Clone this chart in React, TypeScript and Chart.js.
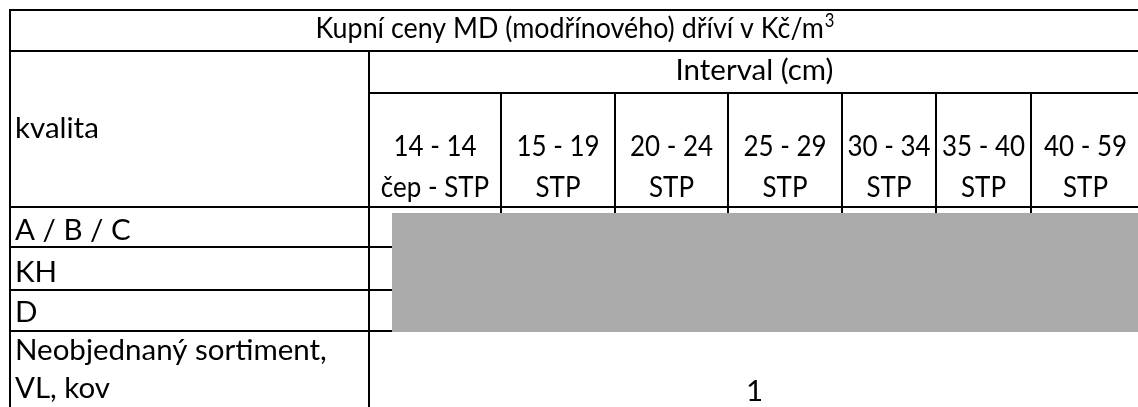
import React, { useEffect, useRef } from "react";
import { Chart, registerables } from "chart.js";

Chart.register(...registerables);

// ---- content (text / values) ----
const titleText = "Kupní ceny MD (modřínového) dříví v Kč/m";
const titleSup = "3";
const intervalHeader = "Interval (cm)";
const qualityHeader = "kvalita";
const intervals = ["14 - 14", "15 - 19", "20 - 24", "25 - 29", "30 - 34", "35 - 40", "40 - 59"];
const assortments = ["čep - STP", "STP", "STP", "STP", "STP", "STP", "STP"];
const qualities = ["A / B / C", "KH", "D"];
const otherLabel = ["Neobjednaný sortiment,", "VL, kov"];
const otherValues = [1];

// ---- layout (pixels in a 1138 x 407 frame) ----
const W = 1138;
const H = 407;
const colEdges = [10, 369, 501, 615, 728, 842, 936, 1031, 1140];
const rowEdges = [10, 51, 93, 207, 247, 290, 331, 420];
const maskBox = { x1: 392, y1: 213, x2: 1140, y2: 332 };
const textLeft = 15;
const fontFamily = "Lato, 'Noto Sans', sans-serif";
const fontSize = 29.5;
const titleScale = 0.91;
const colLabelScale = 0.88;
const bodyScale = 1.0;

const tablePlugin = {
  id: "tablePlugin",
  beforeDraw(chart: any) {
    const { ctx } = chart;
    ctx.save();
    ctx.fillStyle = "#ffffff";
    ctx.fillRect(0, 0, chart.width, chart.height);
    ctx.restore();
  },
  afterDraw(chart: any) {
    const { ctx } = chart;
    const xs = chart.scales.x;
    const ys = chart.scales.y;
    const X = (v: number) => xs.getPixelForValue(v);
    const Y = (v: number) => ys.getPixelForValue(v);
    const fs = fontSize;
    const font = `${fs}px ${fontFamily}`;

    ctx.save();
    // lines
    ctx.strokeStyle = "#000";
    ctx.lineWidth = 2;
    const hl = (y: number, x1: number, x2: number) => {
      ctx.beginPath();
      ctx.moveTo(X(x1), Y(y));
      ctx.lineTo(X(x2), Y(y));
      ctx.stroke();
    };
    const vl = (x: number, y1: number, y2: number) => {
      ctx.beginPath();
      ctx.moveTo(X(x), Y(y1));
      ctx.lineTo(X(x), Y(y2));
      ctx.stroke();
    };
    const L = colEdges[0];
    const R = colEdges[colEdges.length - 1];
    hl(rowEdges[0], L - 1, R);
    hl(rowEdges[1], L, R);
    hl(rowEdges[2], colEdges[1], R);
    for (let i = 3; i <= 6; i++) hl(rowEdges[i], L, R);
    vl(L, rowEdges[0] - 1, rowEdges[7]);
    vl(colEdges[1], rowEdges[1], rowEdges[7]);
    for (let c = 2; c < colEdges.length - 1; c++) vl(colEdges[c], rowEdges[2], rowEdges[6]);

    // masked (obscured) value area
    ctx.fillStyle = "rgb(170,170,170)";
    ctx.fillRect(X(maskBox.x1), Y(maskBox.y1), X(maskBox.x2) - X(maskBox.x1), Y(maskBox.y2) - Y(maskBox.y1));

    // texts
    ctx.fillStyle = "#000";
    ctx.textBaseline = "alphabetic";
    const draw = (t: string, x: number, y: number, align: CanvasTextAlign, sx: number, f: string = font) => {
      ctx.save();
      ctx.font = f;
      ctx.textAlign = align;
      ctx.translate(x, y);
      ctx.scale(sx, 1);
      ctx.fillText(t, 0, 0);
      ctx.restore();
    };

    // title with superscript
    const supFont = `${fs * 0.62}px ${fontFamily}`;
    ctx.font = font;
    const mainW = ctx.measureText(titleText).width * titleScale;
    ctx.font = supFont;
    const supW = ctx.measureText(titleSup).width * titleScale;
    const startX = X((L + R) / 2) - (mainW + supW + 1) / 2;
    draw(titleText, startX, Y(38), "left", titleScale);
    draw(titleSup, startX + mainW + 1, Y(38) - fs * 0.36, "left", titleScale, supFont);

    // interval header
    draw(intervalHeader, X((colEdges[1] + R) / 2), Y(80), "center", bodyScale);

    // column labels
    for (let i = 0; i < intervals.length; i++) {
      const mx = X((colEdges[i + 1] + colEdges[i + 2]) / 2);
      draw(intervals[i], mx, Y(156), "center", colLabelScale);
      draw(assortments[i], mx, Y(197), "center", colLabelScale);
    }

    // left column
    draw(qualityHeader, X(textLeft), Y(138), "left", bodyScale);
    const qBase = [240, 282, 322];
    qualities.forEach((q, i) => draw(q, X(textLeft), Y(qBase[i]), "left", bodyScale));
    draw(otherLabel[0], X(textLeft), Y(360), "left", bodyScale);
    draw(otherLabel[1], X(textLeft), Y(398), "left", bodyScale);

    // value
    draw(String(otherValues[0]), X((colEdges[1] + R) / 2), Y(401), "center", bodyScale);

    ctx.restore();
  },
};

export default function App() {
  const ref = useRef<HTMLCanvasElement | null>(null);
  useEffect(() => {
    document.body.style.margin = "0";
    const canvas = ref.current;
    if (!canvas) return;
    const chart = new Chart(canvas, {
      type: "scatter",
      data: { datasets: [{ data: [], pointRadius: 0 }] },
      options: {
        animation: false,
        responsive: false,
        maintainAspectRatio: false,
        layout: { padding: 0 },
        plugins: { legend: { display: false }, tooltip: { enabled: false }, title: { display: false } },
        scales: {
          x: { type: "linear", min: 0, max: W, display: false },
          y: { type: "linear", min: 0, max: H, reverse: true, display: false },
        },
        events: [],
      },
      plugins: [tablePlugin],
    });
    return () => chart.destroy();
  }, []);
  return (
    <div style={{ width: W, height: H }}>
      <canvas ref={ref} width={W} height={H} style={{ display: "block", width: W, height: H }} />
    </div>
  );
}
